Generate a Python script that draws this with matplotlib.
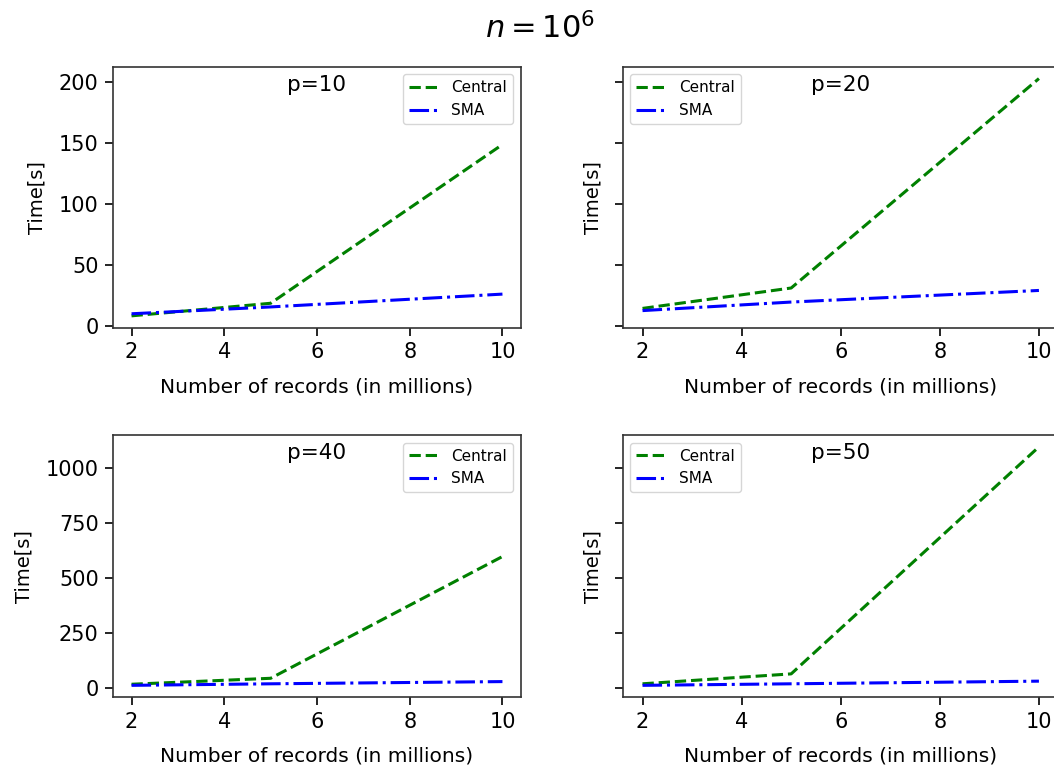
import numpy as np
import matplotlib
matplotlib.use('Agg')
import matplotlib.pyplot as plt

# record counts (millions) and run times in seconds for each p
records = [2, 5, 10]
p_values = [10, 20, 40, 50]
central = {
    10: [8.7, 19, 149],
    20: [14.8, 31.5, 203],
    40: [18, 45, 597],
    50: [20, 65, 1094],
}
sma = {
    10: [10.4, 16, 26.5],
    20: [13, 20, 29.5],
    40: [13, 20, 30],
    50: [13, 20, 32],
}

fig = plt.figure(figsize=(10.54, 7.72), dpi=100)

# axes boxes: [left, bottom, width, height]
boxes = {
    10: [0.1072, 0.5755, 0.3871, 0.3381],
    20: [0.5908, 0.5755, 0.4137, 0.3381],
    40: [0.1072, 0.0968, 0.3871, 0.3398],
    50: [0.5908, 0.0968, 0.4137, 0.3398],
}

axes = {}
for p in p_values:
    share = None
    if p == 20:
        share = axes[10]
    if p == 50:
        share = axes[40]
    ax = fig.add_axes(boxes[p], sharey=share)
    axes[p] = ax
    ax.plot(records, central[p], 'g--', lw=2.2, label='Central')
    ax.plot(records, sma[p], 'b-.', lw=2.2, label='SMA')
    ax.set_xticks([2, 4, 6, 8, 10])
    ax.tick_params(labelsize=15, length=5.5, width=1.2, pad=4.8)
    for s in ax.spines.values():
        s.set_linewidth(1.2)
        s.set_color('#333333')
    ax.set_xlabel('Number of records (in millions)', fontsize=14.5, labelpad=11)
    ax.set_ylabel('Time[s]', fontsize=14, labelpad=9)
    ax.text(0.5, 0.93, 'p=%d' % p, transform=ax.transAxes,
            ha='center', va='center', fontsize=15.5)
    loc = 'upper right' if p in (10, 40) else 'upper left'
    ax.legend(loc=loc, fontsize=11)
    if share is not None:
        plt.setp(ax.get_yticklabels(), visible=False)

axes[10].set_yticks([0, 50, 100, 150, 200])
axes[40].set_yticks([0, 250, 500, 750, 1000])

fig.suptitle('$n=10^6$', fontsize=22, x=0.512, y=0.985)
fig.savefig('out.png', dpi=100)
